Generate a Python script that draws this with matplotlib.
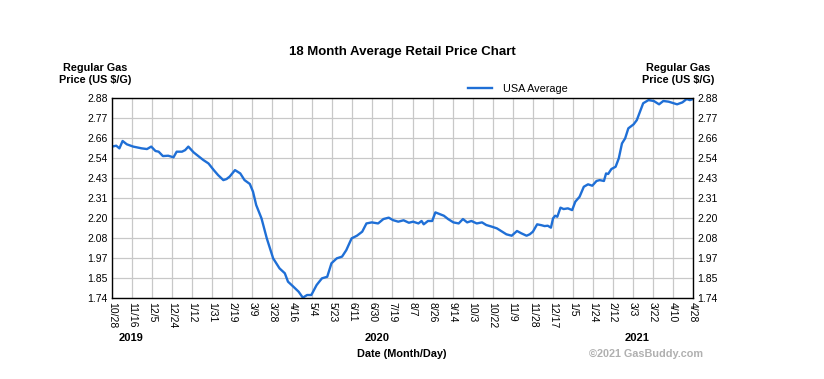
import numpy as np
import matplotlib
matplotlib.use("Agg")
import matplotlib.pyplot as plt

plt.rcParams['font.family'] = ['Liberation Sans', 'DejaVu Sans']

# days since 10/28/2019 and USA average regular price ($/gal)
days = [0, 4, 7, 10, 14, 20, 28, 33, 37, 41, 44, 48, 53, 58, 61, 66, 69, 72, 77, 81,
        86, 91, 96, 100, 105, 108, 111, 116, 121, 125, 130, 133, 136, 141, 146, 152,
        158, 163, 166, 171, 176, 180, 184, 188, 193, 198, 203, 207, 212, 217, 221, 226,
        231, 236, 240, 245, 251, 256, 261, 265, 270, 275, 280, 284, 289, 292, 294, 298,
        302, 305, 308, 313, 317, 322, 327, 331, 335, 339, 344, 349, 353, 358, 363, 368,
        372, 377, 382, 386, 391, 394, 397, 401, 405, 408, 411, 414, 416, 418, 420, 423,
        426, 430, 434, 437, 441, 445, 449, 453, 457, 460, 464, 466, 468, 471, 475, 478,
        481, 484, 487, 492, 495, 498, 501, 506, 511, 516, 520, 525, 530, 533, 538, 542,
        545, 548]
price = [2.603, 2.608, 2.593, 2.635, 2.616, 2.603, 2.593, 2.589, 2.603, 2.578, 2.574,
         2.549, 2.551, 2.542, 2.574, 2.574, 2.583, 2.603, 2.570, 2.551, 2.527, 2.507,
         2.469, 2.441, 2.412, 2.418, 2.432, 2.469, 2.450, 2.412, 2.390, 2.346, 2.270,
         2.194, 2.080, 1.966, 1.909, 1.881, 1.833, 1.805, 1.776, 1.742, 1.757, 1.757,
         1.814, 1.852, 1.861, 1.938, 1.966, 1.976, 2.013, 2.080, 2.095, 2.118, 2.165,
         2.171, 2.165, 2.190, 2.198, 2.184, 2.175, 2.183, 2.169, 2.175, 2.165, 2.179,
         2.160, 2.179, 2.179, 2.228, 2.221, 2.209, 2.190, 2.171, 2.165, 2.190, 2.171,
         2.179, 2.165, 2.171, 2.156, 2.147, 2.137, 2.118, 2.103, 2.095, 2.122, 2.109,
         2.095, 2.103, 2.118, 2.160, 2.155, 2.150, 2.152, 2.141, 2.194, 2.209, 2.203,
         2.255, 2.247, 2.251, 2.241, 2.289, 2.317, 2.374, 2.388, 2.380, 2.407, 2.412,
         2.407, 2.450, 2.447, 2.475, 2.488, 2.536, 2.621, 2.650, 2.707, 2.730, 2.754,
         2.802, 2.850, 2.868, 2.863, 2.844, 2.863, 2.859, 2.850, 2.844, 2.855, 2.874,
         2.868, 2.874]

x_labels = ['10/28', '11/16', '12/5', '12/24', '1/12', '1/31', '2/19', '3/9', '3/28',
            '4/16', '5/4', '5/23', '6/11', '6/30', '7/19', '8/7', '8/26', '9/14', '10/3',
            '10/22', '11/9', '11/28', '12/17', '1/5', '1/24', '2/12', '3/3', '3/22',
            '4/10', '4/28']
y_labels = ['1.74', '1.85', '1.97', '2.08', '2.20', '2.31', '2.43', '2.54', '2.66',
            '2.77', '2.88']
years = ['2019', '2020', '2021']
year_days = [18, 250, 495]

total_days = 548
y_min, y_max = 1.74, 2.88

fig = plt.figure(figsize=(8.24, 3.79), dpi=100)
ax = fig.add_axes([112 / 824, 1 - 298 / 379, 581 / 824, 200 / 379])

line_color = '#1f6fd6'
ax.plot(days, price, color=line_color, lw=1.7, label='USA Average', solid_joinstyle='round')

ax.set_xlim(0, total_days)
ax.set_ylim(y_min, y_max)

xt = np.linspace(0, total_days, len(x_labels))
yt = np.linspace(y_min, y_max, len(y_labels))
ax.set_xticks(xt)
ax.set_xticklabels(x_labels, rotation=270, fontsize=7.5, va='top', ha='center')
ax.set_yticks(yt)
ax.set_yticklabels(y_labels, fontsize=7.5)
ax.tick_params(axis='both', length=0, pad=3)
ax.tick_params(axis='y', labelright=True, right=False)

ax.grid(True, color='#c8c8c8', lw=0.9)
ax.set_axisbelow(True)
for s in ax.spines.values():
    s.set_color('black')
    s.set_linewidth(1.0)

fig.text(402 / 824, 1 - 52 / 379, '18 Month Average Retail Price Chart',
         fontsize=9.5, fontweight='bold', ha='center', va='center')
fig.text(95 / 824, 1 - 74 / 379, 'Regular Gas\nPrice (US $/G)', fontsize=7.8,
         fontweight='bold', ha='center', va='center', linespacing=1.2)
fig.text(678 / 824, 1 - 74 / 379, 'Regular Gas\nPrice (US $/G)', fontsize=7.8,
         fontweight='bold', ha='center', va='center', linespacing=1.2)

ax.legend(loc='center left', bbox_to_anchor=(468 / 824, 1 - 89 / 379),
          bbox_transform=fig.transFigure, frameon=False, fontsize=7.8,
          handlelength=2.2, handletextpad=1.0, borderpad=0, borderaxespad=0)

for yr, d in zip(years, year_days):
    xf = (112 + d / total_days * 581) / 824
    fig.text(xf, 1 - 338 / 379, yr, fontsize=8, fontweight='bold', ha='center', va='center')

fig.text(402 / 824, 1 - 354 / 379, 'Date (Month/Day)', fontsize=7.8, fontweight='bold',
         ha='center', va='center')
fig.text(703 / 824, 1 - 354 / 379, '\u00a92021 GasBuddy.com', fontsize=7.8,
         fontweight='bold', color='#b0b0b0', ha='right', va='center')

fig.savefig('out.png', dpi=100)
